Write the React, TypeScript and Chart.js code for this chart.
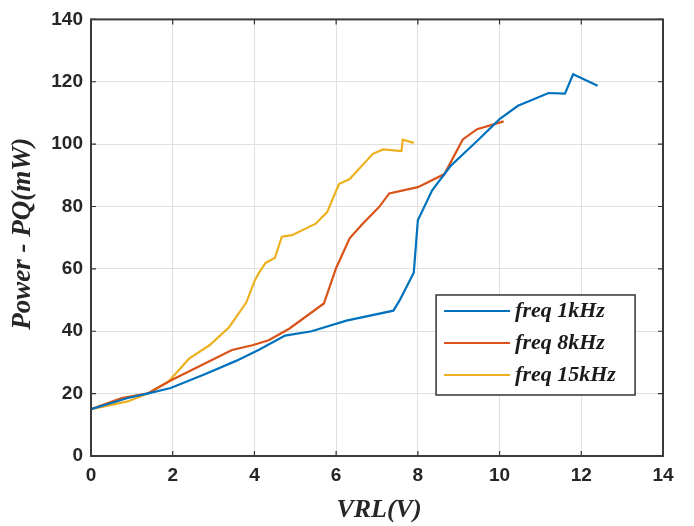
import React, { useEffect, useRef } from "react";
import { Chart, registerables } from "chart.js";

Chart.register(...registerables);

// ---- data ----
const xTicks = [0, 2, 4, 6, 8, 10, 12, 14];
const yTicks = [0, 20, 40, 60, 80, 100, 120, 140];
const seriesNames = ["freq 1kHz", "freq 8kHz", "freq 15kHz"];

const x1k = [0, 0.9, 1.4, 1.95, 2.8, 3.55, 4.1, 4.75, 5.4, 6.25, 7.4, 7.55, 7.9, 8.0, 8.35, 8.8, 9.45, 10.0, 10.45, 11.2, 11.6, 11.8, 12.4];
const y1k = [15, 18.6, 20.1, 21.8, 26.3, 30.5, 34, 38.6, 40, 43.4, 46.6, 49.8, 58.8, 75.6, 85.2, 93, 101, 108, 112.3, 116.4, 116.2, 122.4, 118.7];

const x8k = [0, 0.75, 1.4, 1.95, 3.45, 3.95, 4.35, 4.85, 5.7, 6.0, 6.33, 6.65, 7.05, 7.3, 8.0, 8.65, 9.1, 9.45, 10.1];
const y8k = [15, 18.6, 20.1, 24.2, 34, 35.5, 37.1, 40.8, 48.9, 60.3, 69.8, 74.5, 79.8, 84.2, 86.2, 90.4, 101.5, 104.8, 107.3];

const x15k = [0, 0.9, 1.4, 1.9, 2.4, 2.9, 3.38, 3.8, 4.0, 4.1, 4.27, 4.5, 4.67, 4.92, 5.5, 5.78, 6.07, 6.33, 6.9, 7.15, 7.6, 7.63, 7.9];
const y15k = [15, 17.5, 20.1, 23.9, 31.2, 35.5, 41.3, 49.2, 56, 58.5, 61.9, 63.5, 70.3, 70.8, 74.5, 78.2, 87.2, 88.8, 96.9, 98.3, 97.8, 101.4, 100.4];

const colors = ["#0072BD", "#D95319", "#EDB120"];

const zip = (xs: number[], ys: number[]) => xs.map((x, i) => ({ x, y: ys[i] }));

const decorPlugin = {
  id: "decor",
  afterDraw(chart: any) {
    const { ctx, chartArea } = chart;
    const { left, right, top, bottom } = chartArea;
    const xs = chart.scales.x;
    const ys = chart.scales.y;
    ctx.save();
    // inward tick marks
    ctx.strokeStyle = "#303030";
    ctx.lineWidth = 1.2;
    const tl = 5;
    xTicks.forEach((v) => {
      const px = xs.getPixelForValue(v);
      ctx.beginPath();
      ctx.moveTo(px, bottom);
      ctx.lineTo(px, bottom - tl);
      ctx.moveTo(px, top);
      ctx.lineTo(px, top + tl);
      ctx.stroke();
    });
    yTicks.forEach((v) => {
      const py = ys.getPixelForValue(v);
      ctx.beginPath();
      ctx.moveTo(left, py);
      ctx.lineTo(left + tl, py);
      ctx.moveTo(right, py);
      ctx.lineTo(right - tl, py);
      ctx.stroke();
    });
    // frame
    ctx.strokeStyle = "#3a3a3a";
    ctx.lineWidth = 2;
    ctx.strokeRect(left, top, right - left, bottom - top);

    // axis titles
    ctx.fillStyle = "#262626";
    ctx.font = "italic bold 26px 'Liberation Serif', 'Times New Roman', serif";
    ctx.textAlign = "center";
    ctx.textBaseline = "middle";
    ctx.fillText("VRL(V)", (left + right) / 2 + 2, 510);
    ctx.save();
    ctx.translate(23, (top + bottom) / 2 - 4);
    ctx.rotate(-Math.PI / 2);
    ctx.font = "italic bold 27px 'Liberation Serif', 'Times New Roman', serif";
    ctx.fillText("Power - PQ(mW)", 0, 0);
    ctx.restore();

    // legend box
    const w = right - left;
    const h = bottom - top;
    const bx = left + w * 0.6033;
    const by = top + h * 0.6312;
    const bw = 199;
    const bh = 100;
    ctx.fillStyle = "#ffffff";
    ctx.fillRect(bx, by, bw, bh);
    ctx.strokeStyle = "#333333";
    ctx.lineWidth = 1.5;
    ctx.strokeRect(bx, by, bw, bh);
    ctx.font = "italic bold 22px 'Liberation Serif', 'Times New Roman', serif";
    ctx.textAlign = "left";
    ctx.textBaseline = "middle";
    seriesNames.forEach((name, i) => {
      const ry = by + 16 + i * 32;
      ctx.strokeStyle = colors[i];
      ctx.lineWidth = 2.2;
      ctx.beginPath();
      ctx.moveTo(bx + 8, ry);
      ctx.lineTo(bx + 74, ry);
      ctx.stroke();
      ctx.fillStyle = "#1a1a1a";
      ctx.fillText(name, bx + 79, ry);
    });
    ctx.restore();
  },
};

export default function App() {
  const ref = useRef<HTMLCanvasElement | null>(null);
  useEffect(() => {
    if (!ref.current) return;
    const tickFont = { family: "'Liberation Sans', Arial, sans-serif", size: 19, weight: "bold" as const };
    const chart = new Chart(ref.current, {
      type: "line",
      data: {
        datasets: [
          { label: seriesNames[0], data: zip(x1k, y1k), borderColor: colors[0], backgroundColor: colors[0] },
          { label: seriesNames[1], data: zip(x8k, y8k), borderColor: colors[1], backgroundColor: colors[1] },
          { label: seriesNames[2], data: zip(x15k, y15k), borderColor: colors[2], backgroundColor: colors[2] },
        ].map((d) => ({ ...d, borderWidth: 2.2, pointRadius: 0, tension: 0, fill: false })),
      },
      options: {
        animation: false,
        responsive: false,
        layout: { padding: { top: 14, right: 31, left: 0, bottom: 0 } },
        plugins: { legend: { display: false }, tooltip: { enabled: false } },
        scales: {
          x: {
            type: "linear",
            min: 0,
            max: 14,
            afterFit: (s: any) => { s.height = 70; },
            afterBuildTicks: (s: any) => { s.ticks = xTicks.map((v) => ({ value: v })); },
            ticks: { font: tickFont, color: "#262626", padding: 8 },
            grid: { color: "#e0e0e0", lineWidth: 1, drawTicks: false },
            border: { display: false },
          },
          y: {
            type: "linear",
            min: 0,
            max: 140,
            afterFit: (s: any) => { s.width = 91; },
            afterBuildTicks: (s: any) => { s.ticks = yTicks.map((v) => ({ value: v })); },
            ticks: { font: tickFont, color: "#262626", padding: 8 },
            grid: { color: "#e0e0e0", lineWidth: 1, drawTicks: false },
            border: { display: false },
          },
        },
      },
      plugins: [decorPlugin],
    });
    return () => chart.destroy();
  }, []);
  return (
    <div style={{ position: "absolute", left: 0, top: 0, width: 694, height: 526, background: "#fff" }}>
      <canvas ref={ref} width={694} height={526} />
    </div>
  );
}
